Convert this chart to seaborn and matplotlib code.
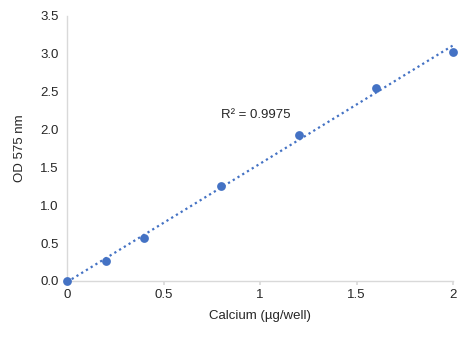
import numpy as np
import pandas as pd
import matplotlib
matplotlib.use("Agg")
import matplotlib.pyplot as plt
import seaborn as sns

calcium = [0, 0.2, 0.4, 0.8, 1.2, 1.6, 2.0]
od575 = [0.0, 0.265, 0.57, 1.25, 1.93, 2.55, 3.02]
r2_label = "R² = 0.9975"
x_ticks = [0, 0.5, 1, 1.5, 2]
x_tick_labels = ["0", "0.5", "1", "1.5", "2"]
y_ticks = [0.0, 0.5, 1.0, 1.5, 2.0, 2.5, 3.0, 3.5]

sns.set_theme(style="white")
plt.rcParams['font.family'] = ['Liberation Sans', 'DejaVu Sans']

df = pd.DataFrame({"x": calcium, "y": od575})
blue = "#4472C4"
fs = 9.5

fig = plt.figure(figsize=(4.72, 3.41), dpi=100)
ax = fig.add_axes([0.142, 0.176, 0.818, 0.778])

# Linear trendline
slope, intercept = np.polyfit(df["x"], df["y"], 1)
xs = np.array([0, 2.0])
ax.plot(xs, slope * xs + intercept, linestyle=(0, (1, 1.5)), color=blue, lw=1.6, zorder=2)

sns.scatterplot(data=df, x="x", y="y", ax=ax, color=blue, s=40, edgecolor=blue, linewidth=0, zorder=3, clip_on=False)

ax.set_xlim(0, 2)
ax.set_ylim(0, 3.5)
ax.set_xticks(x_ticks)
ax.set_xticklabels(x_tick_labels)
ax.set_yticks(y_ticks)
ax.set_yticklabels([f"{v:.1f}" for v in y_ticks])

for s in ["top", "right"]:
    ax.spines[s].set_visible(False)
for s in ["left", "bottom"]:
    ax.spines[s].set_color("#d9d9d9")
    ax.spines[s].set_linewidth(1.0)

ax.tick_params(axis="x", which="both", bottom=True, length=3, color="#d9d9d9", labelsize=fs, labelcolor="#262626", pad=3)
ax.tick_params(axis="y", which="both", left=False, length=0, labelsize=fs, labelcolor="#262626", pad=6)

ax.set_xlabel("Calcium (µg/well)", fontsize=fs, color="#262626", labelpad=6)
ax.set_ylabel("OD 575 nm", fontsize=fs, color="#262626", labelpad=10)

ax.text(0.8, 2.19, r2_label, fontsize=fs, color="#262626", ha="left", va="center")

fig.savefig("out.png", dpi=100)
